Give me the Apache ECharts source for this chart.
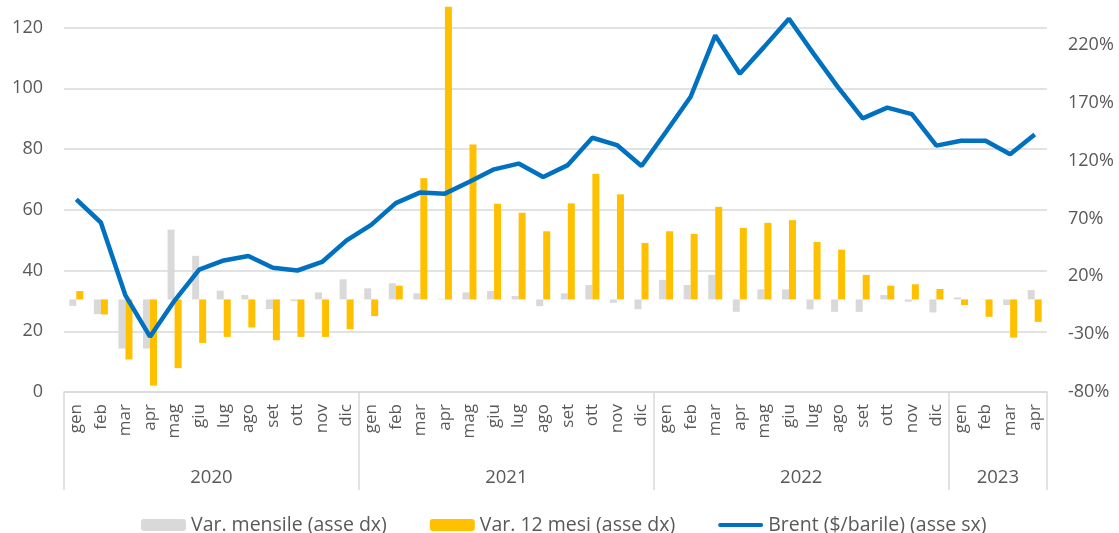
<!DOCTYPE html>
<html>
<head>
<meta charset="utf-8">
<script src="https://cdn.jsdelivr.net/npm/echarts@6/dist/echarts.min.js"></script>
<style>
html,body{margin:0;padding:0;background:#fff;}
#c{width:1119px;height:533px;}
</style>
</head>
<body>
<div id="c"></div>
<script>
// ---- data ----
var monthNames = ['gen','feb','mar','apr','mag','giu','lug','ago','set','ott','nov','dic'];
var years = ['2020','2021','2022','2023'];
var monthsPerYear = [12,12,12,4];

// Brent ($/barile), left axis
var brent = [
  63.4, 55.8, 31.8, 18.2, 30.1, 40.3, 43.3, 44.8, 40.9, 40.0, 42.8, 49.9,
  55.0, 62.2, 65.7, 65.3, 69.2, 73.3, 75.2, 70.8, 74.7, 83.7, 81.3, 74.4,
  85.7, 97.2, 117.4, 104.8, 113.7, 122.9, 111.4, 100.3, 90.1, 93.6, 91.5, 81.1,
  82.7, 82.7, 78.3, 84.8
];
// Var. mensile (%), right axis
var varMensile = [
  -5.6, -12.7, -42.5, -42.5, 60.3, 37.7, 7.6, 3.8, -8.4, -1.5, 6.1, 17.4,
  9.6, 14.0, 5.3, 0.5, 6.1, 7.3, 3.0, -5.8, 5.3, 12.5, -2.9, -8.4,
  16.9, 12.5, 21.2, -10.7, 8.7, 8.7, -8.6, -10.7, -10.7, 3.8, -2.0, -11.3,
  1.7, 0.2, -4.9, 8.1
];
// Var. 12 mesi (%), right axis
var var12Mesi = [
  7.2, -13.0, -51.9, -74.5, -59.4, -37.6, -32.4, -24.3, -35.3, -32.4, -32.4, -25.7,
  -14.4, 11.9, 104.8, 253, 133.9, 82.7, 74.9, 58.9, 83.0, 108.5, 90.8, 48.8,
  58.9, 56.6, 80.0, 61.8, 66.2, 68.5, 49.6, 43.0, 21.2, 11.9, 13.1, 9.0,
  -4.9, -15.0, -33.0, -19.4
];
var leftTicks = {min: 0, max: 120, interval: 20};
var rightTicks = {min: -80, max: 235, interval: 50};

// ---- derived category structures ----
var months = [];
for (var y = 0; y < years.length; y++) {
  for (var m = 0; m < monthsPerYear[y]; m++) months.push(monthNames[m]);
}
// half-month positions for the year level (boundaryGap false)
var nHalf = months.length * 2 + 1;
var yearSlots = [];
for (var i = 0; i < nHalf; i++) yearSlots.push('');
var sepIdx = [0];
var acc = 0;
for (var y2 = 0; y2 < years.length; y2++) {
  yearSlots[acc * 2 + monthsPerYear[y2]] = years[y2];
  acc += monthsPerYear[y2];
  sepIdx.push(acc * 2);
}

var FONT = 'Open Sans';
var TXT = '#595959';
var GRID_C = '#d9d9d9';

var chart = echarts.init(document.getElementById('c'), null, {renderer: 'canvas'});
chart.setOption({
  animation: false,
  textStyle: {fontFamily: FONT},
  grid: {left: 64, right: 72, top: 27.5, bottom: 141, containLabel: false},
  legend: {
    data: [
      {name: 'Var. mensile (asse dx)'},
      {name: 'Var. 12 mesi (asse dx)'},
      {name: 'Brent ($/barile) (asse sx)', icon: 'path://M2,0L43,0A2,2,0,0,1,43,4L2,4A2,2,0,0,1,2,0Z'}
    ],
    left: 136, top: 510,
    itemWidth: 45, itemHeight: 12, itemGap: 43, symbolKeepAspect: true,
    textStyle: {fontFamily: FONT, fontSize: 19.5, color: TXT}
  },
  xAxis: [
    {
      type: 'category', data: months, position: 'bottom',
      axisLine: {show: true, onZero: false, lineStyle: {color: GRID_C, width: 1.5}},
      axisTick: {show: false},
      axisLabel: {interval: 0, rotate: 90, margin: 12, fontSize: 17, color: TXT, fontFamily: FONT}
    },
    {
      type: 'category', data: yearSlots, position: 'bottom', boundaryGap: false,
      axisLine: {show: false},
      axisTick: {
        show: true, length: 98, lineStyle: {color: GRID_C, width: 1.5},
        interval: function (idx) { return sepIdx.indexOf(idx) >= 0; }
      },
      axisLabel: {
        interval: function (idx, val) { return val !== ''; },
        margin: 76, fontSize: 18.5, color: TXT, fontFamily: FONT
      },
      splitLine: {show: false}
    }
  ],
  yAxis: [
    {
      type: 'value', min: leftTicks.min, max: leftTicks.max, interval: leftTicks.interval,
      axisLine: {show: false}, axisTick: {show: false},
      axisLabel: {margin: 21, fontSize: 18, color: TXT, fontFamily: FONT},
      splitLine: {show: true, lineStyle: {color: GRID_C, width: 1.5}}
    },
    {
      type: 'value', min: rightTicks.min, max: rightTicks.max, interval: rightTicks.interval,
      position: 'right',
      axisLine: {show: false}, axisTick: {show: false},
      axisLabel: {margin: 21, fontSize: 18, color: TXT, fontFamily: FONT, showMaxLabel: false,
        formatter: function (v) { return v + '%'; }},
      splitLine: {show: false}
    }
  ],
  series: [
    {
      name: 'Var. mensile (asse dx)', type: 'bar', data: varMensile,
      xAxisIndex: 0, yAxisIndex: 1, clip: false,
      barGap: '0%', barCategoryGap: '43%',
      itemStyle: {color: '#d9d9d9'}
    },
    {
      name: 'Var. 12 mesi (asse dx)', type: 'bar', data: var12Mesi,
      xAxisIndex: 0, yAxisIndex: 1, clip: false,
      barGap: '0%', barCategoryGap: '43%',
      itemStyle: {color: '#ffc000'}
    },
    {
      name: 'Brent ($/barile) (asse sx)', type: 'line', data: brent,
      xAxisIndex: 0, yAxisIndex: 0, clip: false,
      symbol: 'none', smooth: false,
      lineStyle: {color: '#0070c0', width: 4.5},
      itemStyle: {color: '#0070c0'}
    }
  ]
});
</script>
</body>
</html>
